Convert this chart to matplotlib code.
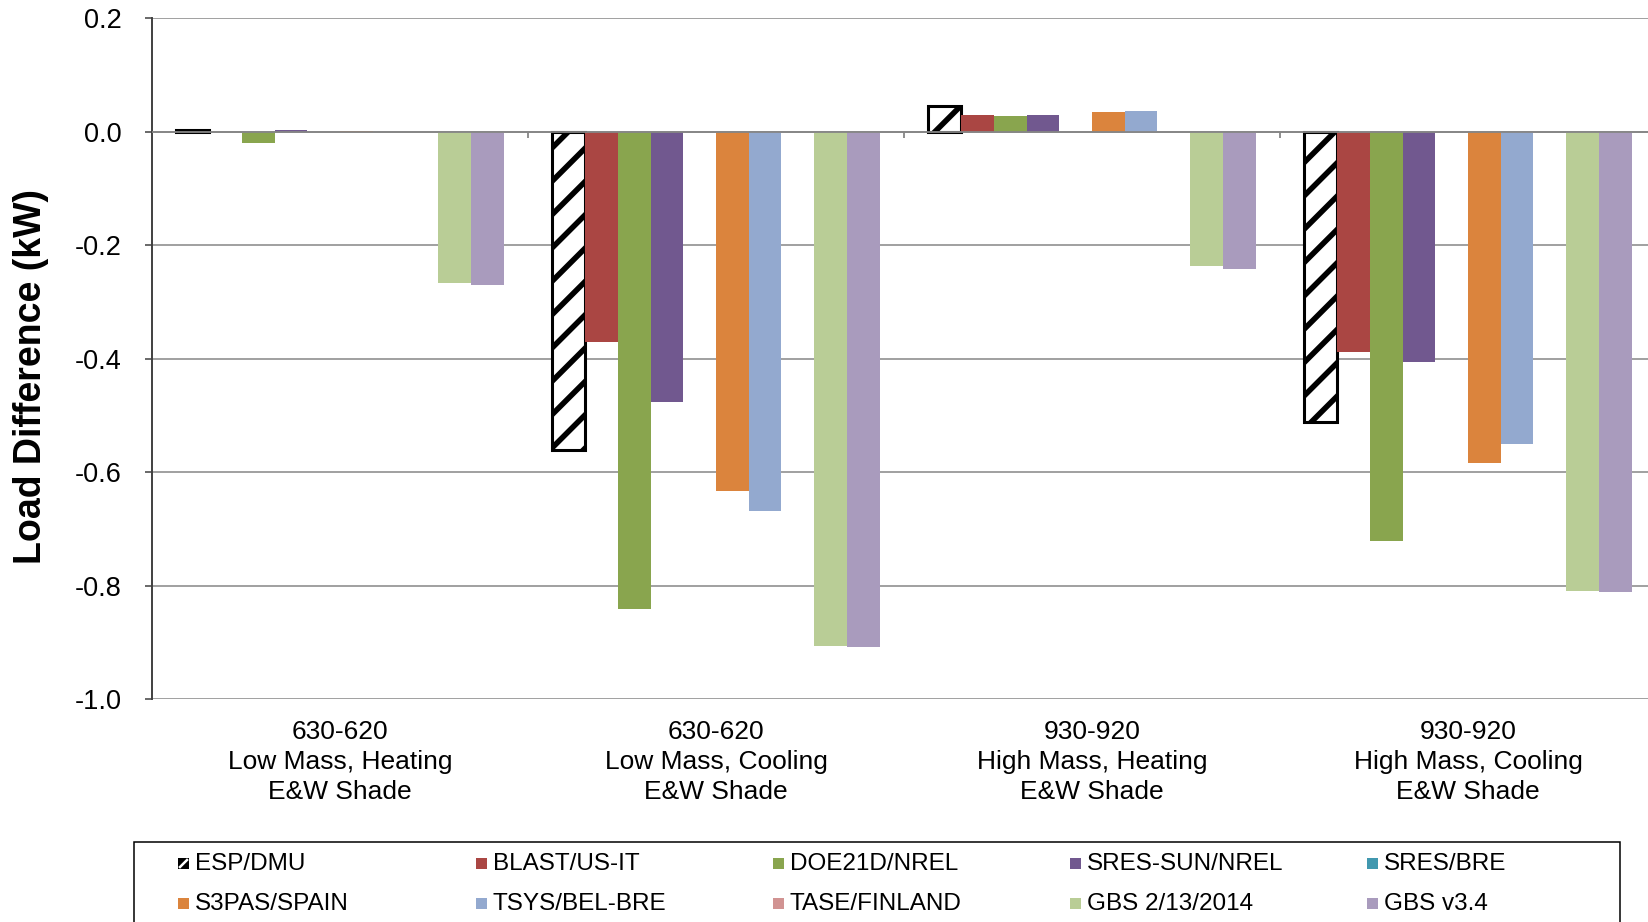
import numpy as np
import matplotlib.pyplot as plt
from matplotlib.patches import Rectangle
from matplotlib.lines import Line2D

plt.rcParams['font.family'] = ['Liberation Sans', 'DejaVu Sans']
plt.rcParams['axes.unicode_minus'] = False
plt.rcParams['hatch.linewidth'] = 4.0

# categories (x axis)
groups = ["630-620\nLow Mass, Heating\nE&W Shade",
          "630-620\nLow Mass, Cooling\nE&W Shade",
          "930-920\nHigh Mass, Heating\nE&W Shade",
          "930-920\nHigh Mass, Cooling\nE&W Shade"]

programs = ["ESP/DMU", "BLAST/US-IT", "DOE21D/NREL", "SRES-SUN/NREL", "SRES/BRE",
            "S3PAS/SPAIN", "TSYS/BEL-BRE", "TASE/FINLAND", "GBS 2/13/2014", "GBS v3.4"]
colors = ["white", "#AA4643", "#89A54E", "#71588F", "#4198AF",
          "#DB843D", "#93A9CF", "#D19392", "#B9CD96", "#A99BBD"]

# load difference (kW) per program, one value per category
nan = np.nan
esp_dmu = [0.002, -0.562, 0.045, -0.512]
blast = [nan, -0.371, 0.029, -0.388]
doe21d = [-0.020, -0.842, 0.027, -0.722]
sres_sun = [0.003, -0.477, 0.029, -0.406]
sres_bre = [nan, nan, nan, nan]
s3pas = [0.001, -0.633, 0.035, -0.584]
tsys = [nan, -0.668, 0.036, -0.551]
tase = [nan, nan, nan, nan]
gbs_2014 = [-0.267, -0.907, -0.237, -0.809]
gbs_v34 = [-0.271, -0.909, -0.243, -0.811]

series = [esp_dmu, blast, doe21d, sres_sun, sres_bre,
          s3pas, tsys, tase, gbs_2014, gbs_v34]

W, H = 1649, 922
fig = plt.figure(figsize=(W / 100, H / 100), dpi=100)
ax = fig.add_axes([152 / W, 1 - 699 / H, 1504 / W, 681 / H])

x = np.arange(len(groups))
bw = 0.087
grid_c = "#868686"

for i, (name, vals) in enumerate(zip(programs, series)):
    pos = x + (i - (len(programs) - 1) / 2) * bw
    if i == 0:
        ax.bar(pos, vals, bw, color="white", edgecolor="black", hatch="/",
               linewidth=2.2, zorder=3, label=name)
    else:
        ax.bar(pos, vals, bw, color=colors[i], linewidth=0, zorder=3, label=name)

ax.set_xlim(-0.5, len(groups) - 0.5)
ax.set_ylim(-1.0, 0.2)
ax.set_yticks(np.round(np.arange(-1.0, 0.21, 0.2), 1) + 0.0)
ax.set_yticklabels([f"{v:.1f}".replace("-0.0", "0.0") for v in ax.get_yticks()])
ax.grid(axis="y", color=grid_c, linewidth=1.1, zorder=0)
ax.set_axisbelow(True)

for s in ["top", "right", "bottom"]:
    ax.spines[s].set_visible(False)
ax.spines["left"].set_color("#404040")
ax.spines["left"].set_linewidth(1.4)

ax.tick_params(axis="y", length=5, width=1.1, color="#404040", pad=17,
               labelsize=19.5)
ax.set_xticks(x)
ax.set_xticklabels(groups, fontsize=19, linespacing=1.33)
ax.tick_params(axis="x", length=0, pad=15)

# category axis at zero with tick marks between categories
ax.axhline(0, color=grid_c, linewidth=1.3, zorder=4)
ax.vlines(x[1:] - 0.5, -0.0123, 0, color=grid_c, linewidth=1.3, zorder=4)

fig.text(31 / W, 1 - 376 / H, "Load Difference (kW)", rotation=90,
         ha="center", va="center", fontsize=27, fontweight="bold")

# legend box (cropped at the bottom)
fig.patches.append(Rectangle((134 / W, -0.05), (1620 - 134) / W, 0.05 + (1 - 842 / H),
                             transform=fig.transFigure, fill=False,
                             edgecolor="black", linewidth=1.1))
col_x = [178, 476, 773, 1070, 1367]
row_y = [864, 904]
for i, name in enumerate(programs):
    r, c = divmod(i, 5)
    mx = col_x[c] / W
    my = 1 - (row_y[r] + 5) / H
    face = "black" if i == 0 else colors[i]
    fig.patches.append(Rectangle((mx, my), 11 / W, 11 / H, transform=fig.transFigure,
                                 facecolor=face, linewidth=0))
    if i == 0:
        fig.lines.append(Line2D([(col_x[c] + 2) / W, (col_x[c] + 9) / W],
                                [my + 2 / H, my + 9 / H], transform=fig.transFigure,
                                color="white", linewidth=1.8))
    fig.text((col_x[c] + 17) / W, 1 - row_y[r] / H, name, ha="left", va="center",
             fontsize=17.5)

fig.savefig("out.png", dpi=100)
